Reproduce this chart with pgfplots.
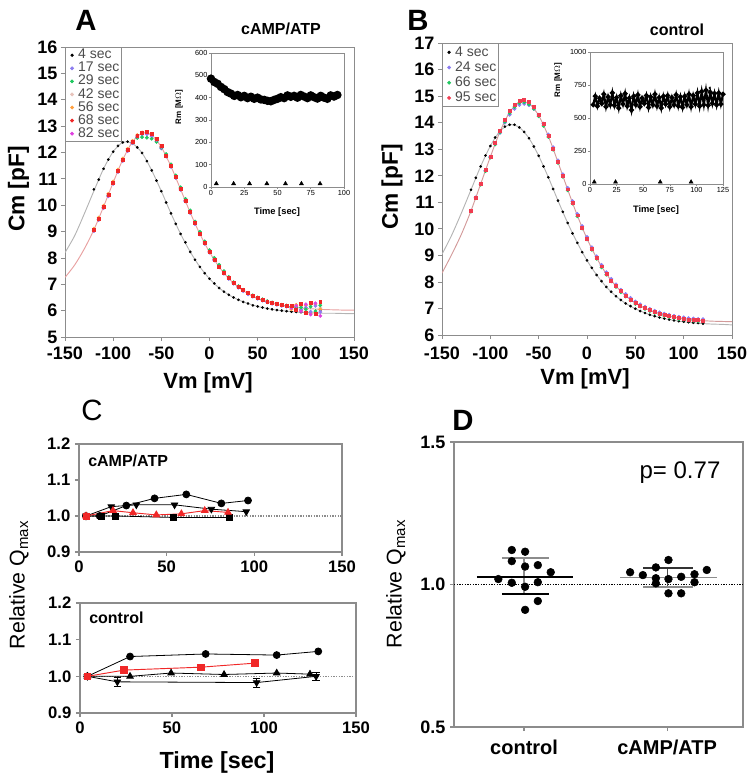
\documentclass[border=0pt]{standalone}
\usepackage{pgfplots}
\pgfplotsset{compat=1.18}
\usepackage{pgfplotstable}
\usepackage{fontspec}
\setmainfont{Liberation Sans}
\newcommand\fs[1]{\fontsize{#1}{#1}\selectfont}

\definecolor{cpur}{HTML}{8C7CF0}
\definecolor{cgrn}{HTML}{20C860}
\definecolor{cpale}{HTML}{E8C4BC}
\definecolor{corg}{HTML}{FFA040}
\definecolor{cred}{HTML}{F02828}
\definecolor{cmag}{HTML}{E040E0}
\definecolor{cpnk}{HTML}{F03C50}
\definecolor{axgray}{HTML}{8C8C8C}
\definecolor{fitgray}{HTML}{B4B4B4}
\definecolor{fitpink}{HTML}{E8A0A0}

% panel A: Cm(Vm), cAMP/ATP
\pgfplotstableread{
V    b     c17   c29   c42   c56   c68   c82
-120 10.60 9.02  9.04  9.09  9.11  9.07  9.03
-115 10.97 9.44  9.46  9.51  9.53  9.49  9.45
-110 11.38 9.89  9.91  9.96  9.98  9.94  9.90
-105 11.73 10.34 10.36 10.41 10.43 10.39 10.35
-100 12.03 10.81 10.83 10.88 10.90 10.86 10.82
-95  12.25 11.26 11.28 11.33 11.35 11.31 11.27
-90  12.38 11.68 11.70 11.75 11.77 11.73 11.69
-85  12.41 12.05 12.07 12.12 12.14 12.10 12.06
-80  12.34 12.35 12.37 12.42 12.44 12.41 12.37
-75  12.19 12.57 12.55 12.64 12.66 12.64 12.60
-70  11.98 12.68 12.58 12.75 12.76 12.76 12.72
-65  11.67 12.69 12.56 12.76 12.77 12.78 12.74
-60  11.32 12.61 12.52 12.68 12.69 12.71 12.67
-55  10.93 12.42 12.40 12.49 12.50 12.52 12.48
-50  10.53 12.15 12.18 12.22 12.23 12.24 12.21
-45  10.10 11.84 11.94 11.88 11.89 11.89 11.87
-40  9.69  11.45 11.55 11.49 11.49 11.50 11.48
-35  9.29  11.03 11.13 11.07 11.07 11.07 11.06
-30  8.91  10.58 10.68 10.62 10.62 10.62 10.61
-25  8.59  10.14 10.24 10.18 10.18 10.18 10.17
-20  8.23  9.70  9.80  9.74  9.74  9.74  9.73
-15  7.93  9.28  9.38  9.32  9.32  9.32  9.31
-10  7.66  8.89  8.99  8.93  8.93  8.93  8.92
-5   7.42  8.53  8.63  8.57  8.57  8.57  8.56
0    7.21  8.20  8.30  8.24  8.24  8.24  8.23
5    7.03  7.90  8.00  7.94  7.94  7.94  7.93
10   6.86  7.64  7.74  7.68  7.68  7.68  7.67
15   6.72  7.40  7.50  7.44  7.44  7.44  7.43
20   6.60  7.20  7.28  7.24  7.24  7.24  7.23
25   6.50  7.02  7.08  7.06  7.06  7.06  7.05
30   6.41  6.87  6.93  6.91  6.91  6.91  6.90
35   6.33  6.74  6.79  6.78  6.78  6.78  6.77
40   6.27  6.62  6.67  6.66  6.66  6.66  6.65
45   6.20  6.53  6.58  6.57  6.57  6.57  6.56
50   6.16  6.45  6.50  6.49  6.49  6.49  6.48
55   6.12  6.38  6.43  6.42  6.42  6.42  6.41
60   6.08  6.31  6.36  6.35  6.35  6.35  6.34
65   6.05  6.26  6.31  6.30  6.30  6.30  6.29
70   6.02  6.22  6.26  6.26  6.26  6.26  6.25
75   6.00  6.18  6.22  6.22  6.22  6.22  6.21
80   5.98  6.15  6.19  6.19  6.19  6.19  6.18
85   5.96  6.12  6.16  6.16  6.05  6.20  6.10
90   5.95  6.10  6.14  6.14  6.22  6.02  6.18
95   5.94  6.05  6.12  6.18  6.00  6.25  5.98
100  5.93  6.12  6.05  5.98  6.20  5.92  6.24
105  5.92  5.96  6.15  6.22  5.90  6.30  5.85
110  5.91  6.18  5.98  5.92  6.25  5.88  6.28
115  6.02  5.95  6.20  6.10  6.05  6.35  5.80
}\tabA

\pgfplotstableread{
V    fb    fc
-150 8.20  7.26
-140 8.84  7.73
-130 9.67  8.34
-120 10.54 9.07
-110 11.38 9.94
-100 12.03 10.86
-90  12.38 11.73
-80  12.34 12.40
-70  11.98 12.73
-60  11.32 12.66
-50  10.53 12.20
-40  9.69  11.47
-30  8.91  10.60
-20  8.23  9.72
-10  7.66  8.91
0    7.21  8.22
10   6.86  7.66
20   6.60  7.22
30   6.41  6.89
40   6.27  6.64
50   6.16  6.47
60   6.08  6.33
70   6.02  6.24
80   5.98  6.17
90   5.95  6.12
100  5.93  6.08
110  5.91  6.06
120  5.90  6.04
130  5.90  6.03
140  5.89  6.02
150  5.89  6.02
}\fitA

% panel B: Cm(Vm), control
\pgfplotstableread{
V    b     c24   c66   c95
-120 11.47 10.68 10.65 10.68
-115 11.92 11.18 11.15 11.18
-110 12.35 11.69 11.66 11.70
-105 12.76 12.20 12.17 12.21
-100 13.12 12.71 12.68 12.73
-95  13.44 13.19 13.18 13.23
-90  13.68 13.62 13.63 13.69
-85  13.85 14.00 14.03 14.10
-80  13.92 14.30 14.36 14.44
-75  13.92 14.52 14.59 14.68
-70  13.82 14.67 14.74 14.83
-65  13.65 14.71 14.77 14.86
-60  13.41 14.66 14.69 14.78
-55  13.10 14.52 14.52 14.60
-50  12.75 14.29 14.24 14.31
-45  12.35 13.96 13.88 13.94
-40  11.94 13.55 13.46 13.51
-35  11.50 13.07 12.98 13.02
-30  11.06 12.57 12.48 12.52
-25  10.64 12.05 11.96 12.00
-20  10.22 11.54 11.45 11.49
-15  9.83  11.04 10.95 10.99
-10  9.47  10.56 10.47 10.51
-5   9.12  10.10 10.01 10.05
0    8.81  9.69  9.60  9.64
5    8.53  9.30  9.21  9.25
10   8.26  8.96  8.87  8.91
15   8.03  8.64  8.55  8.59
20   7.81  8.36  8.27  8.31
25   7.63  8.11  8.02  8.06
30   7.46  7.90  7.81  7.85
35   7.32  7.70  7.61  7.65
40   7.19  7.54  7.45  7.49
45   7.09  7.39  7.30  7.34
50   6.99  7.26  7.17  7.21
55   6.90  7.15  7.07  7.11
60   6.83  7.06  6.98  7.02
65   6.76  6.98  6.90  6.94
70   6.71  6.91  6.83  6.87
75   6.66  6.85  6.77  6.81
80   6.62  6.80  6.72  6.76
85   6.58  6.76  6.68  6.72
90   6.55  6.72  6.64  6.68
95   6.52  6.68  6.60  6.64
100  6.50  6.66  6.58  6.62
105  6.48  6.63  6.55  6.59
110  6.46  6.62  6.54  6.58
115  6.45  6.60  6.52  6.56
120  6.43  6.59  6.51  6.55
}\tabB

\pgfplotstableread{
V    fb    fc
-150 9.04  8.33
-140 9.76  9.03
-130 10.59 9.79
-120 11.47 10.68
-110 12.35 11.69
-100 13.12 12.71
-90  13.68 13.66
-80  13.92 14.39
-70  13.82 14.77
-60  13.41 14.72
-50  12.75 14.27
-40  11.94 13.49
-30  11.06 12.51
-20  10.22 11.48
-10  9.47  10.50
0    8.81  9.63
10   8.26  8.90
20   7.81  8.30
30   7.46  7.84
40   7.19  7.48
50   6.99  7.20
60   6.83  7.01
70   6.71  6.86
80   6.62  6.75
90   6.55  6.67
100  6.50  6.61
110  6.46  6.57
120  6.43  6.54
130  6.41  6.52
140  6.40  6.51
150  6.38  6.50
}\fitB

% insets: Rm over time
\pgfplotstableread{
t    r
0    485
2.5  470
5    462
7.5  448
10   438
12.5 425
15   418
17.5 408
20   412
22.5 402
25   408
27.5 398
30   404
32.5 395
35   400
37.5 392
40   390
42.5 386
45   384
47.5 390
50   395
52.5 402
55   398
57.5 410
60   404
62.5 408
65   400
67.5 412
70   405
72.5 398
75   410
77.5 402
80   396
82.5 408
85   400
87.5 395
90   410
92.5 405
95   412
}\rmA

\pgfplotstableread{
t   r
3   600
5   665
7   590
9   650
11  610
13  680
15  585
17  660
19  600
21  690
23  595
25  655
27  575
29  670
31  605
33  685
35  590
37  650
39  560
41  665
43  600
45  675
47  585
49  650
51  610
53  670
55  580
57  660
59  600
61  680
63  590
65  655
67  575
69  665
71  605
73  670
75  585
77  655
79  600
81  675
83  590
85  660
87  580
89  665
91  600
93  680
95  585
97  670
99  605
101 690
103 590
105 700
107 600
109 710
111 595
113 695
115 610
117 685
119 600
121 690
123 605
125 680
}\rmB

\pgfplotsset{
  /pgf/number format/assume math mode=true,
  /pgf/number format/1000 sep={},
  panel/.style={scale only axis, anchor=south west,
    axis line style={axgray,line width=0.6pt},
    tick style={axgray,line width=0.6pt},
    tick align=outside, tick pos=left, major tick length=3pt},
  onedec/.style={/pgf/number format/fixed,/pgf/number format/fixed zerofill,/pgf/number format/precision=1},
  dots/.style={only marks, mark=*, mark size=#1, forget plot},
  bigticks/.style={ticklabel style={font=\fs{13.5}\bfseries, inner sep=1pt},
    xticklabel style={yshift=-3pt}, yticklabel style={xshift=-1.5pt}},
  lgd/.style={legend cell align=left,
    legend image code/.code={\path (0,0) (0.26cm,0); \draw[##1] plot coordinates {(0.13cm,0cm)};},
    legend style={at={(0,1)}, anchor=north west, draw=axgray, line width=0.6pt,
      font=\fs{10.5}, text=black!70, inner sep=1pt, row sep=0pt,
      nodes={inner sep=0.6pt, text height=7pt, text depth=1.6pt}}},
}

\begin{document}
\begin{tikzpicture}
\useasboundingbox (0,0) rectangle (565.5pt,586.5pt);

% ---------- A ----------
\begin{axis}[panel, lgd, bigticks, at={(48.75pt,333.75pt)}, width=216.75pt, height=217.5pt,
  xmin=-150, xmax=150, ymin=5, ymax=16,
  xtick={-150,-100,...,150}, ytick={5,6,...,16}]
\addlegendimage{only marks,mark=*,mark size=0.9pt,black}\addlegendentry{4 sec}
\addlegendimage{only marks,mark=*,mark size=1.1pt,cpur}\addlegendentry{17 sec}
\addlegendimage{only marks,mark=*,mark size=1.1pt,cgrn}\addlegendentry{29 sec}
\addlegendimage{only marks,mark=*,mark size=1.1pt,cpale}\addlegendentry{42 sec}
\addlegendimage{only marks,mark=*,mark size=1.1pt,corg}\addlegendentry{56 sec}
\addlegendimage{only marks,mark=*,mark size=1.1pt,cred}\addlegendentry{68 sec}
\addlegendimage{only marks,mark=*,mark size=1.1pt,cmag}\addlegendentry{82 sec}
\addplot[fitgray, line width=0.7pt, smooth, forget plot] table[x=V,y=fb]{\fitA};
\addplot[fitpink, line width=0.7pt, smooth, forget plot] table[x=V,y=fc]{\fitA};
\addplot[dots=0.8pt, black] table[x=V,y=b]{\tabA};
\addplot[dots=1.2pt, cpale] table[x=V,y=c42]{\tabA};
\addplot[dots=1.2pt, corg] table[x=V,y=c56]{\tabA};
\addplot[dots=1.2pt, cpur] table[x=V,y=c17]{\tabA};
\addplot[dots=1.2pt, cgrn] table[x=V,y=c29]{\tabA};
\addplot[dots=1.2pt, cmag] table[x=V,y=c82]{\tabA};
\addplot[dots=1.1pt, cred, mark=square*] table[x=V,y=c68]{\tabA};
\end{axis}

\begin{axis}[panel, at={(158.25pt,446.25pt)}, width=99.75pt, height=100.5pt,
  xmin=0, xmax=100, ymin=0, ymax=600,
  xtick={0,25,...,100}, ytick={0,100,...,600}, major tick length=1.5pt,
  axis line style={line width=0.5pt}, tick style={line width=0.4pt},
  ticklabel style={font=\fs{5.5}, inner sep=1pt}]
\addplot[black, line width=2.8pt, mark=*, mark size=1.7pt] table[x=t,y=r]{\rmA};
\addplot[only marks, mark=triangle*, mark size=1.7pt, black] coordinates {(4,15) (17,15) (29,15) (42,15) (56,15) (68,15) (82,15)};
\end{axis}

% ---------- B ----------
\begin{axis}[panel, lgd, bigticks, at={(331.5pt,335.25pt)}, width=217.5pt, height=219pt,
  xmin=-150, xmax=150, ymin=6, ymax=17,
  xtick={-150,-100,...,150}, ytick={6,7,...,17},
  xticklabel style={yshift=-1.5pt},
  legend style={nodes={text height=8pt, text depth=2.2pt}}]
\addlegendimage{only marks,mark=*,mark size=0.9pt,black}\addlegendentry{4 sec}
\addlegendimage{only marks,mark=*,mark size=1.1pt,cpur}\addlegendentry{24 sec}
\addlegendimage{only marks,mark=*,mark size=1.1pt,cgrn}\addlegendentry{66 sec}
\addlegendimage{only marks,mark=*,mark size=1.1pt,cpnk}\addlegendentry{95 sec}
\addplot[fitgray, line width=0.7pt, smooth, forget plot] table[x=V,y=fb]{\fitB};
\addplot[fitpink!80!gray, line width=0.7pt, smooth, forget plot] table[x=V,y=fc]{\fitB};
\addplot[dots=0.8pt, black] table[x=V,y=b]{\tabB};
\addplot[dots=1.3pt, cpur] table[x=V,y=c24]{\tabB};
\addplot[dots=1.2pt, cgrn] table[x=V,y=c66]{\tabB};
\addplot[dots=1.1pt, cpnk, mark=square*] table[x=V,y=c95]{\tabB};
\end{axis}

\begin{axis}[panel, at={(442.5pt,448.5pt)}, width=99.75pt, height=99pt,
  xmin=0, xmax=125, ymin=0, ymax=1000,
  xtick={0,25,...,125}, ytick={0,250,...,1000}, major tick length=1.5pt,
  axis line style={line width=0.5pt}, tick style={line width=0.4pt},
  ticklabel style={font=\fs{5.5}, inner sep=1pt}]
\addplot[black, line width=1.6pt, mark=*, mark size=1pt] table[x=t,y=r]{\rmB};
\addplot[only marks, mark=*, mark size=0.6pt, black] coordinates {(112.5,728) (39,545)};
\addplot[only marks, mark=triangle*, mark size=1.7pt, black] coordinates {(4,15) (24,15) (66,15) (95,15)};
\end{axis}

% ---------- C ----------
\begin{axis}[panel, at={(59.25pt,172.5pt)}, width=197.25pt, height=81pt,
  xmin=0, xmax=150, ymin=0.9, ymax=1.2,
  xtick={0,50,100,150}, ytick={0.9,1.0,1.1,1.2},
  axis line style={line width=1pt}, tick style={line width=1pt},
  ticklabel style={font=\fs{12.5}\bfseries}, yticklabel style={onedec}]
\addplot[axgray, line width=0.9pt, dash pattern=on 1pt off 1pt] coordinates {(0,1) (150,1)};
\addplot[black, line width=0.6pt, mark=*, mark size=2.6pt] coordinates {(4,1.0) (11.8,1.0) (27,1.029) (43.1,1.049) (61.2,1.060) (81.2,1.035) (96.4,1.043)};
\addplot[black, line width=0.6pt, mark=triangle*, mark size=2.8pt, mark options={rotate=180}] coordinates {(4,1.0) (18.4,1.026) (32.7,1.031) (54.5,1.031) (75.5,1.019) (95.4,1.012)};
\addplot[black, line width=0.6pt, mark=square*, mark size=2.3pt] coordinates {(4,1.0) (12.7,1.0) (21,1.0) (53.6,0.996) (85.9,0.996)};
\addplot[cred, line width=0.7pt, mark=triangle*, mark size=2.8pt] coordinates {(4,1.0) (19.4,1.015) (30.8,1.009) (44.1,1.003) (58.4,1.006) (71.7,1.015) (85,1.010)};
\addplot[only marks, cred, mark=square*, mark size=2.4pt] coordinates {(4,1.0)};
\end{axis}

\begin{axis}[panel, at={(60pt,51.75pt)}, width=207pt, height=82.5pt,
  xmin=0, xmax=150, ymin=0.9, ymax=1.2,
  xtick={0,50,100,150}, ytick={0.9,1.0,1.1,1.2},
  axis line style={line width=1pt}, tick style={line width=1pt},
  ticklabel style={font=\fs{12.5}\bfseries}, yticklabel style={onedec}]
\addplot[axgray, line width=0.9pt, dash pattern=on 1pt off 1pt] coordinates {(0,1) (150,1)};
\addplot[black, line width=0.6pt, mark=triangle*, mark size=2.8pt, mark options={rotate=180},
  error bars/.cd, y dir=both, y explicit, error bar style={line width=0.6pt}] coordinates {(4,1.0) (20.3,0.985) +- (0,0.012) (96,0.983) +- (0,0.012) (128.3,1.0) +- (0,0.012)};
\addplot[black, line width=0.6pt, mark=triangle*, mark size=2.8pt] coordinates {(4,1.0) (27.2,1.0) (49.5,1.009) (78.3,1.005) (106.9,1.009) (125,1.006)};
\addplot[black, line width=0.6pt, mark=*, mark size=2.6pt] coordinates {(4,1.0) (27.2,1.054) (68.3,1.061) (106.9,1.058) (129.5,1.068)};
\addplot[cred, line width=0.7pt, mark=square*, mark size=2.4pt] coordinates {(4,1.0) (23.9,1.017) (65.8,1.025) (95.1,1.036)};
\end{axis}

% ---------- D ----------
\begin{axis}[panel, at={(340.5pt,41.25pt)}, width=216.75pt, height=213.75pt,
  xmin=0.51, xmax=2.53, ymin=0.5, ymax=1.5,
  xtick={1,2}, xticklabels={control,cAMP/ATP}, ytick={0.5,1.0,1.5},
  axis line style={line width=1pt}, tick style={line width=1pt},
  yticklabel style={onedec, font=\fs{13.5}\bfseries},
  xticklabel style={font=\fs{15}\bfseries, yshift=-3pt}]
\addplot[black, line width=0.8pt, dash pattern=on 1pt off 1pt] coordinates {(0.51,1) (2.53,1)};
\addplot[axgray, line width=1pt] coordinates {(1,0.967) (1,1.094)};
\addplot[axgray, line width=1.2pt] coordinates {(0.844,1.094) (1.177,1.094)};
\addplot[black, line width=1.2pt] coordinates {(0.669,1.027) (1.345,1.027)};
\addplot[black, line width=1.2pt] coordinates {(0.844,0.967) (1.177,0.967)};
\addplot[black!70, line width=1pt] coordinates {(2,0.992) (2,1.057)};
\addplot[black!80, line width=1.2pt] coordinates {(1.834,1.057) (2.179,1.057)};
\addplot[axgray, line width=1.2pt] coordinates {(1.671,1.025) (2.347,1.025)};
\addplot[axgray, line width=1.2pt] coordinates {(1.834,0.992) (2.179,0.992)};
\addplot[only marks, mark=*, mark size=2.9pt, black] coordinates {
  (0.914,1.121) (1.007,1.115) (0.914,1.082) (1.007,1.063) (1.096,1.068) (1.186,1.043)
  (0.820,1.019) (0.914,1.006) (1.007,0.992) (1.096,1.008) (1.096,0.942) (1.007,0.911)};
\addplot[only marks, mark=*, mark size=2.9pt, black] coordinates {
  (1.741,1.043) (1.830,1.033) (1.921,1.060) (2.009,1.086) (2.277,1.051) (1.921,1.022)
  (1.921,1.004) (2.009,1.019) (2.098,1.027) (2.191,1.036) (2.191,1.008) (2.009,0.969) (2.098,0.969)};
\end{axis}

% ---------- texts ----------
\node[font=\fs{22}\bfseries] at (64.5pt,571.5pt) {A};
\node[font=\fs{12}\bfseries] at (210.75pt,564.75pt) {cAMP/ATP};
\node[font=\fs{22}\bfseries] at (313.5pt,571.5pt) {B};
\node[font=\fs{12}\bfseries] at (507.75pt,564pt) {control};
\node[font=\fs{22}] at (69pt,279pt) {C};
\node[font=\fs{22}\bfseries] at (347.25pt,271.5pt) {D};
\node[font=\fs{17}\bfseries, rotate=90] at (13.9pt,444.75pt) {Cm [pF]};
\node[font=\fs{16.5}\bfseries] at (156pt,299.25pt) {Vm [mV]};
\node[font=\fs{17}\bfseries, rotate=90] at (294pt,446.25pt) {Cm [pF]};
\node[font=\fs{16.5}\bfseries] at (438.75pt,302.6pt) {Vm [mV]};
\node[font=\fs{7}\bfseries] at (207.75pt,427.5pt) {Time [sec]};
\node[font=\fs{6}\bfseries, rotate=90] at (134.25pt,506.25pt) {Rm [M$\Omega$]};
\node[font=\fs{7}\bfseries] at (492pt,429pt) {Time [sec]};
\node[font=\fs{6}\bfseries, rotate=90] at (418.5pt,526.5pt) {Rm [M$\Omega$]};
\node[font=\fs{16}, rotate=90] at (14.25pt,147.75pt) {Relative Q\textsubscript{max}};
\node[font=\fs{17.5}\bfseries] at (162.75pt,15pt) {Time [sec]};
\node[font=\fs{12}\bfseries, anchor=west, inner sep=0pt] at (66pt,240.75pt) {cAMP/ATP};
\node[font=\fs{12}\bfseries, anchor=west, inner sep=0pt] at (66.75pt,123.4pt) {control};
\node[font=\fs{16}, rotate=90] at (297pt,148.5pt) {Relative Q\textsubscript{max}};
\node[font=\fs{18}] at (510pt,231.75pt) {p= 0.77};
\end{tikzpicture}
\end{document}
